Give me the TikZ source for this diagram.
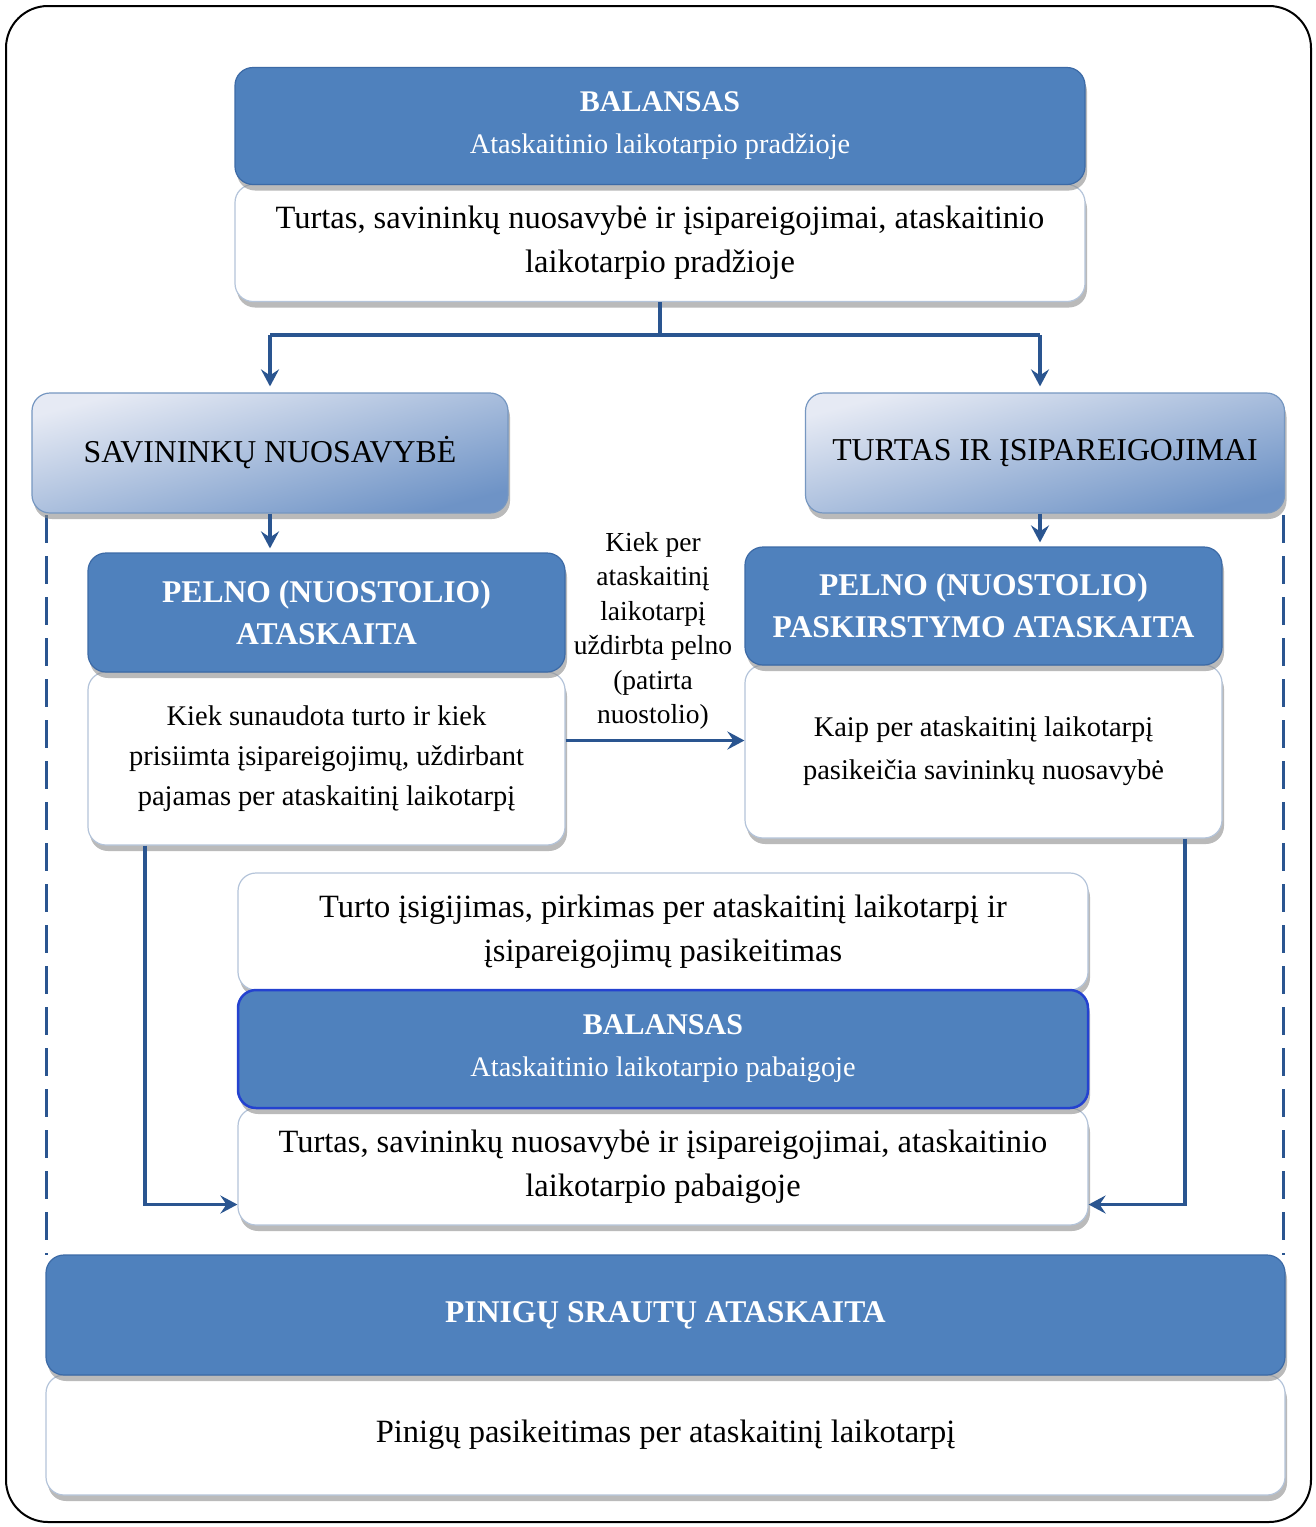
\documentclass[tikz,border=0pt]{standalone}
\usepackage{fontspec}
\setmainfont{Liberation Serif}
\usetikzlibrary{arrows.meta,shadows,calc}
\definecolor{obl}{HTML}{4F81BD}
\definecolor{obd}{HTML}{3C6AA6}
\definecolor{lnc}{HTML}{2A5590}
\definecolor{wbd}{HTML}{B4C4DA}
\definecolor{gtop}{HTML}{E6EAF4}
\definecolor{gbot}{HTML}{6E93C6}
\definecolor{bbd}{HTML}{2442D0}
\tikzset{
  x=1pt,y=-1pt,
  shad/.style={drop shadow={shadow xshift=2pt,shadow yshift=-6pt,fill=black!45,opacity=0.6}},
  bluebox/.style={rounded corners=18pt,fill=obl,draw=obd,line width=1.2pt,shad,text=white,align=center,
    font=\fontsize{28.3}{42}\selectfont,inner sep=0pt},
  whitebox/.style={rounded corners=18pt,fill=white,draw=wbd,line width=1.2pt,shad,text=black,align=center,
    font=\fontsize{32.5}{44}\selectfont,inner sep=0pt},
  gradbox/.style={rounded corners=18pt,top color=gtop,bottom color=gbot,shading angle=15,draw=obd!70,line width=1.2pt,shad,
    text=black,align=center,font=\fontsize{31.8}{42}\selectfont,inner sep=0pt},
  hd/.style={font=\fontsize{31.6}{42}\selectfont\bfseries},
  conn/.style={draw=lnc,line width=3.5pt},
  arr/.style={conn,-{Stealth[length=17pt,width=18pt,inset=6pt]}},
  dashln/.style={draw=lnc,line width=3pt,dash pattern=on 28pt off 13pt},
}
\begin{document}
\begin{tikzpicture}
\useasboundingbox (0,0) rectangle (1316,1527);
\fill[white] (0,0) rectangle (1316,1527);
\draw[black,line width=2pt,rounded corners=42pt] (6,6) rectangle (1311,1522);

% dashed side lines
\coordinate (dl1) at (46,515);
\coordinate (dl2) at (46,1255);
\coordinate (dr1) at (1283,515);
\coordinate (dr2) at (1283,1255);
\draw[dashln] (dl1) -- (dl2);
\draw[dashln] (dr1) -- (dr2);

% top balance
\node[whitebox,minimum width=850pt,minimum height=117pt] (tw) at (660,243)
  {Turtas, savininkų nuosavybė ir įsipareigojimai, ataskaitinio\\laikotarpio pradžioje};
\node[bluebox,minimum width=850pt,minimum height=117pt] (tb) at (660,126)
  {{\bfseries\fontsize{30}{42}\selectfont BALANSAS}\\Ataskaitinio laikotarpio pradžioje};

% split connector
\coordinate (jm) at (660,335);
\coordinate (jl) at (270,335);
\coordinate (jr) at (1040,335);
\draw[conn] (tw.south) -- (jm);
\draw[conn] (jl) -- (jr);

\node[gradbox,minimum width=476pt,minimum height=120pt] (sav) at (270,453) {SAVININKŲ NUOSAVYBĖ};
\node[gradbox,minimum width=479pt,minimum height=120pt] (tur) at (1045,453) {TURTAS IR ĮSIPAREIGOJIMAI};
\draw[arr,shorten >=6pt] (jl) -- (jl |- sav.north);
\draw[arr,shorten >=6pt] (jr) -- (jr |- tur.north);

% pelno ataskaita
\node[whitebox,font=\fontsize{28.5}{40}\selectfont,minimum width=477pt,minimum height=173pt] (p1w) at (326.5,758.5)
  {Kiek sunaudota turto ir kiek\\prisiimta įsipareigojimų, uždirbant\\pajamas per ataskaitinį laikotarpį};
\node[bluebox,hd,minimum width=477pt,minimum height=119pt] (p1) at (326.5,612.5)
  {PELNO (NUOSTOLIO)\\ATASKAITA};

\node[whitebox,font=\fontsize{28.5}{43}\selectfont,minimum width=477pt,minimum height=173pt] (p2w) at (983.5,751.5)
  {Kaip per ataskaitinį laikotarpį\\pasikeičia savininkų nuosavybė};
\node[bluebox,hd,minimum width=477pt,minimum height=118pt] (p2) at (983.5,606)
  {PELNO (NUOSTOLIO)\\PASKIRSTYMO ATASKAITA};

\draw[arr,shorten >=4pt] (jl |- sav.south) -- (jl |- p1.north);
\draw[arr,shorten >=4pt] (jr |- tur.south) -- (jr |- p2.north);

\node[align=center,font=\fontsize{27.5}{34.5}\selectfont] (mid) at (653,631)
  {Kiek per\\ataskaitinį\\laikotarpį\\uždirbta pelno\\(patirta\\nuostolio)};
\draw[arr] ([yshift=18pt]p1w.east) -- ([yshift=18pt]p1w.east -| p2w.west);

% middle column
\node[whitebox,minimum width=850pt,minimum height=117pt] (tb2) at (663,931.5)
  {Turto įsigijimas, pirkimas per ataskaitinį laikotarpį ir\\įsipareigojimų pasikeitimas};
\node[whitebox,minimum width=850pt,minimum height=117pt] (bw) at (663,1166.5)
  {Turtas, savininkų nuosavybė ir įsipareigojimai, ataskaitinio\\laikotarpio pabaigoje};
\node[bluebox,draw=bbd,line width=2.5pt,minimum width=850pt,minimum height=118pt] (bb) at (663,1049)
  {{\bfseries\fontsize{30}{42}\selectfont BALANSAS}\\Ataskaitinio laikotarpio pabaigoje};

\coordinate (lx) at (145,0);
\coordinate (rx) at (1185,0);
\draw[arr] (p1w.south -| lx) |- ([yshift=-38pt]bw.west);
\draw[arr] (p2w.south -| rx) |- ([yshift=-38pt]bw.east);

% cash flow
\node[whitebox,minimum width=1239pt,minimum height=120pt] (pw) at (665.5,1435)
  {Pinigų pasikeitimas per ataskaitinį laikotarpį};
\node[bluebox,hd,minimum width=1239pt,minimum height=120pt] (pb) at (665.5,1315)
  {PINIGŲ SRAUTŲ ATASKAITA};
\end{tikzpicture}
\end{document}
